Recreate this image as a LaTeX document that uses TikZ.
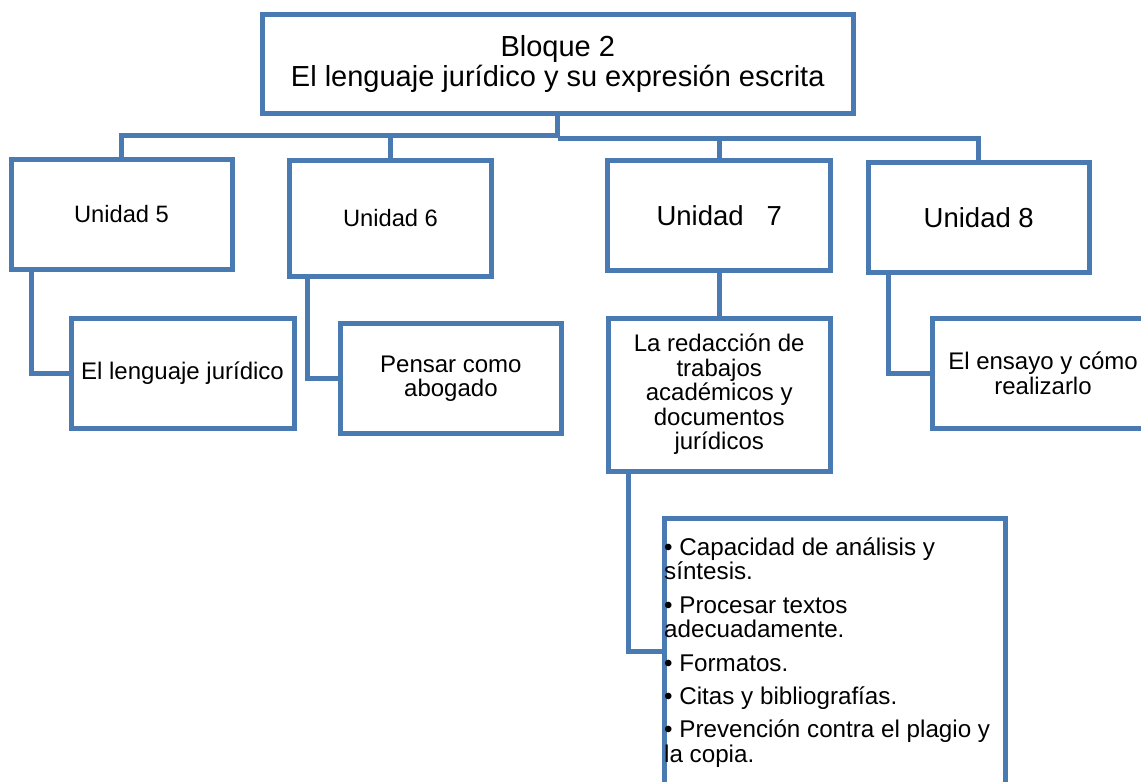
\documentclass[tikz,border=0pt]{standalone}
\usepackage{fontspec}
\setmainfont{Liberation Sans}
\definecolor{bcol}{RGB}{74,122,178}
\begin{document}
\begin{tikzpicture}[x=1pt,y=-1pt,
  ubox/.style={draw=bcol,line width=5pt,fill=white,inner sep=0pt,align=center},
  conn/.style={draw=bcol,line width=5pt},
  ftitle/.style={font=\fontsize{29}{30}\selectfont},
  fsmall/.style={font=\fontsize{23.7}{25}\selectfont},
  fbig/.style={font=\fontsize{27.5}{29}\selectfont},
  fsub/.style={font=\fontsize{24}{24.5}\selectfont}]
\useasboundingbox (0,0) rectangle (1141,782);
\clip (0,0) rectangle (1141,782);
% boxes
\node[ubox,ftitle,minimum width=590.5pt,minimum height=99.5pt] (top) at (557.75,63.75) {Bloque 2\\El lenguaje jurídico y su expresión escrita};
\node[ubox,fsmall,minimum width=221pt,minimum height=110pt] (U5) at (121.5,214) {Unidad 5};
\node[ubox,fsmall,minimum width=202pt,minimum height=115.5pt] (U6) at (390.5,218.25) {Unidad 6};
\node[ubox,fbig,minimum width=222.5pt,minimum height=110pt] (U7) at (719.2,215.6) {Unidad\ \ \ 7};
\node[ubox,fbig,minimum width=221.5pt,minimum height=110.7pt] (U8) at (978.75,217.35) {Unidad 8};
\node[ubox,fsub,minimum width=223pt,minimum height=110pt] (Len) at (182.5,373) {El lenguaje jurídico};
\node[ubox,fsub,minimum width=221.8pt,minimum height=110pt] (Pen) at (450.9,378.75) {Pensar como\\abogado};
\node[ubox,fsub,minimum width=222.3pt,minimum height=153.2pt] (Red) at (719.2,394.6) {La redacción de\\trabajos\\académicos y\\documentos\\jurídicos};
\node[ubox,fsub,minimum width=222pt,minimum height=110.3pt] (Ens) at (1043,373.15) {El ensayo y cómo\\realizarlo};
\node[ubox,minimum width=341pt,minimum height=265.8pt] (bul) at (834.5,651.7) {};
\node[anchor=base west,inner sep=0pt,font=\fontsize{24.2}{24.8}\selectfont] (bt) at (664,555) {\parbox[t]{340pt}{\raggedright • Capacidad de análisis y\\síntesis.\\[8.5pt] • Procesar textos\\adecuadamente.\\[8.5pt] • Formatos.\\[8.5pt] • Citas y bibliografías.\\[8.5pt] • Prevención contra el plagio y\\la copia.}};
% connectors
\coordinate (hl) at (557.75,135);
\coordinate (hr) at (557.75,138.3);
\draw[conn] (top.south) -- (hr);
\draw[conn] (U5.north) |- (hl);
\draw[conn] (U6.north) |- (hl);
\draw[conn] (U7.north) |- (hr);
\draw[conn] (U8.north) |- (hr);
\draw[conn] ([xshift=22.5pt]U5.south west) |- (Len.west);
\draw[conn] ([xshift=20pt]U6.south west) |- (Pen.west);
\draw[conn] (U7.south) -- (Red.north);
\draw[conn] ([xshift=22.5pt]U8.south west) |- (Ens.west);
\draw[conn] ([xshift=22.5pt]Red.south west) |- (bul.west);
\end{tikzpicture}
\end{document}
